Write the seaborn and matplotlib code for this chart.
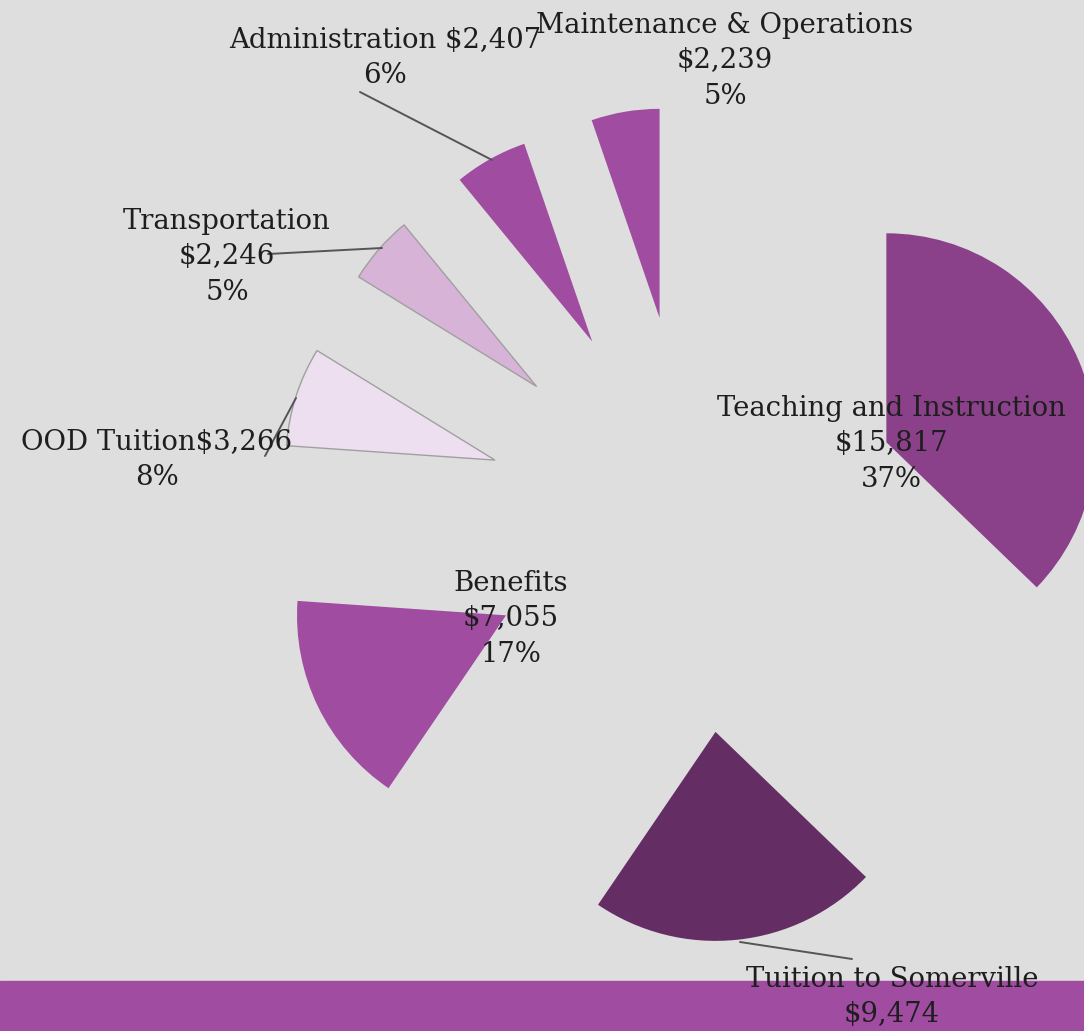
import matplotlib
matplotlib.use("Agg")
import matplotlib.pyplot as plt
import seaborn as sns

# ---- data ----
categories = ["Teaching and Instruction", "Tuition to Somerville", "Benefits",
              "OOD Tuition", "Transportation", "Administration",
              "Maintenance & Operations"]
amounts = [15817, 9474, 7055, 3266, 2246, 2407, 2239]
pct_labels = ["37%", "22%", "17%", "8%", "5%", "6%", "5%"]
amount_labels = ["$15,817", "$9,474", "$7,055", "$3,266", "$2,246", "$2,407", "$2,239"]

colors = ["#8a418a", "#642e64", "#a04ca0", "#eddff0", "#d8b3d8", "#a04ca0", "#a04ca0"]
edgecolors = ["none", "none", "none", "#a0a0a0", "#a0a0a0", "none", "none"]

sns.set_theme(style="white")
plt.rcParams["font.family"] = ["DejaVu Serif"]

W, H = 1084, 1031
R = 209.0              # pixel radius
CX, CY = 694.0, 524.0  # pie center in pixels (from top-left)

fig = plt.figure(figsize=(W / 100, H / 100), dpi=100, facecolor="#dedede")
ax = fig.add_axes([0, 0, 1, 1])
ax.set_facecolor("#dedede")


def P(px, py):
    return ((px - CX) / R, (CY - py) / R)


# bottom band
bx0, by0 = P(0, 1031)
bx1, by1 = P(1084, 981)
ax.add_patch(plt.Rectangle((bx0, by0), bx1 - bx0, by1 - by0, color="#a04ca0", zorder=1))

wedges, _ = ax.pie(amounts, colors=colors, startangle=90, counterclock=False,
                   explode=[1.0] * len(amounts), radius=1.0,
                   wedgeprops=dict(linewidth=1.0), frame=True)
for w, ec in zip(wedges, edgecolors):
    w.set_edgecolor(ec)
    w.set_zorder(2)
ax.set_xlim((0 - CX) / R, (W - CX) / R)
ax.set_ylim((CY - H) / R, CY / R)
ax.set_aspect("equal")
ax.axis("off")

# leader lines
leaders = [((360, 92), (492, 160)),
           ((268, 254), (382, 248)),
           ((296, 398), (265, 456)),
           ((740, 942), (852, 959))]
for a, b in leaders:
    (x0, y0), (x1, y1) = P(*a), P(*b)
    ax.plot([x0, x1], [y0, y1], color="#555555", lw=1.4, zorder=3)

# labels
label_texts = [
    f"{categories[0]}\n{amount_labels[0]}\n{pct_labels[0]}",
    f"{categories[1]}\n{amount_labels[1]}",
    f"{categories[2]}\n{amount_labels[2]}\n{pct_labels[2]}",
    f"{categories[3]}{amount_labels[3]}\n{pct_labels[3]}",
    f"{categories[4]}\n{amount_labels[4]}\n{pct_labels[4]}",
    f"{categories[5]} {amount_labels[5]}\n{pct_labels[5]}",
    f"{categories[6]}\n{amount_labels[6]}\n{pct_labels[6]}",
]
label_pos = [(891, 444), (892, 997), (511, 619), (157, 460),
             (227, 257), (385, 58), (725, 61)]
for (px, py), t in zip(label_pos, label_texts):
    x, y = P(px, py)
    ax.text(x, y, t, ha="center", va="center", multialignment="center",
            fontsize=19.8, color="#1e1e1e", linespacing=1.42, zorder=4)

fig.savefig("out.png", dpi=100, facecolor=fig.get_facecolor())
